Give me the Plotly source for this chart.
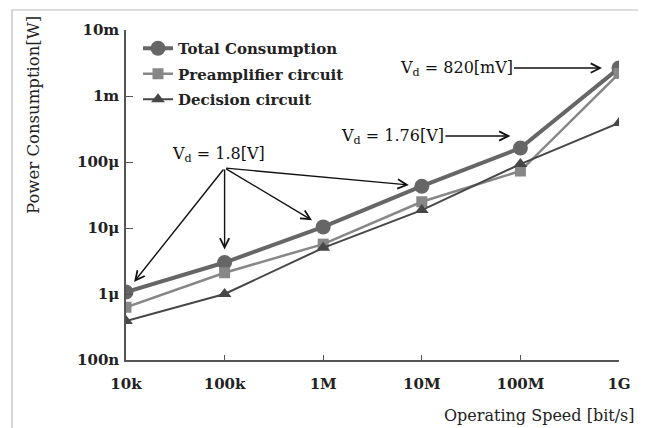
import plotly.graph_objects as go
import numpy as np

speeds = [1e4, 1e5, 1e6, 1e7, 1e8, 1e9]
x_ticktext = ["10k", "100k", "1M", "10M", "100M", "1G"]
total = [1.07e-6, 3.0e-6, 10.4e-6, 43e-6, 163e-6, 2.65e-3]
preamp = [0.63e-6, 2.1e-6, 5.7e-6, 25e-6, 73e-6, 2.2e-3]
decision = [0.39e-6, 1.0e-6, 5.0e-6, 18.7e-6, 93e-6, 390e-6]
y_tickvals = [1e-7, 1e-6, 1e-5, 1e-4, 1e-3, 1e-2]
y_ticktext = ["100n", "1μ", "10μ", "100μ", "1m", "10m"]

OFF = 8  # page body margin
W, H = 646 - OFF, 428 - OFF
# plot area in page pixels: x 126..619, y 30..360
L, R, T, B = 126 - OFF, 646 - 619, 30 - OFF, 428 - 360
PW, PH = W - L - R, H - T - B

def px(xp):  # page pixel x -> paper
    return (xp - OFF - L) / PW

def py(yp):  # page pixel y -> paper
    return (H - B - (yp - OFF)) / PH

def dy(yp):  # page pixel y -> log10 data
    return -7 + (360 - yp) / 66

FONT = "DejaVu Serif"
ACOL = "#111111"

fig = go.Figure()
fig.add_trace(go.Scatter(x=speeds, y=total, name="Total Consumption", mode="lines+markers",
                         legendgroup="a",
                         line=dict(color="#666666", width=4),
                         marker=dict(symbol="circle", size=15, color="#666666")))
fig.add_trace(go.Scatter(x=speeds, y=preamp, name="Preamplifier circuit", mode="lines+markers",
                         legendgroup="b",
                         line=dict(color="#878787", width=2.5),
                         marker=dict(symbol="square", size=11, color="#878787")))
fig.add_trace(go.Scatter(x=speeds, y=decision, name="Decision circuit", mode="lines+markers",
                         legendgroup="c",
                         line=dict(color="#474747", width=2),
                         marker=dict(symbol="triangle-up", size=12, color="#474747")))

lx = np.log10(speeds)
lt = np.log10(total)

annotations = []
# V_d = 1.8[V]: one label, four arrows
src_x, src_y = lx[1], dy(168)
annotations.append(dict(x=lx[1], y=src_y, xref="x", yref="y", yshift=14, xshift=-6,
                        text="V<sub>d</sub> = 1.8[V]", showarrow=False,
                        font=dict(family=FONT, size=16, color=ACOL)))
for i in range(4):
    annotations.append(dict(x=lx[i], y=lt[i], xref="x", yref="y", ax=src_x, ay=src_y,
                            axref="x", ayref="y", text="", showarrow=True, arrowhead=5,
                            arrowsize=1.3, arrowwidth=1.4, arrowcolor=ACOL, standoff=13))
# V_d = 1.76[V]
annotations.append(dict(x=lx[4], y=dy(136), xref="x", yref="y",
                        ax=392 - 520, ay=0, text="V<sub>d</sub> = 1.76[V]",
                        showarrow=True, arrowhead=5, arrowsize=1.3, arrowwidth=1.4,
                        arrowcolor=ACOL, standoff=10,
                        font=dict(family=FONT, size=16, color=ACOL)))
# V_d = 820[mV]
annotations.append(dict(x=lx[5], y=lt[5], xref="x", yref="y",
                        ax=456 - 619, ay=0, text="V<sub>d</sub> = 820[mV]",
                        showarrow=True, arrowhead=5, arrowsize=1.3, arrowwidth=1.4,
                        arrowcolor=ACOL, standoff=17,
                        font=dict(family=FONT, size=16, color=ACOL)))
# axis titles
annotations.append(dict(x=px(33), y=py(115), xref="paper", yref="paper", textangle=-90,
                        xanchor="center", yanchor="middle",
                        text="Power Consumption[W]", showarrow=False,
                        font=dict(family=FONT, size=16.5, color="#222222")))
annotations.append(dict(x=px(637), y=py(415), xref="paper", yref="paper", xanchor="right",
                        yanchor="middle",
                        text="Operating Speed [bit/s]", showarrow=False,
                        font=dict(family=FONT, size=16, color="#222222")))

fig.update_layout(
    width=W, height=H, margin=dict(l=L, r=R, t=T, b=B),
    paper_bgcolor="white", plot_bgcolor="white",
    font=dict(family=FONT, size=14, color="#222222"),
    showlegend=True,
    legend=dict(x=px(138), y=py(32), xanchor="left", yanchor="top", bgcolor="rgba(0,0,0,0)",
                font=dict(family=FONT, size=15, color="#222222", weight=600),
                tracegroupgap=3, itemwidth=30),
    annotations=annotations,
    shapes=[dict(type="rect", xref="paper", yref="paper", x0=px(12), x1=px(640),
                 y0=py(450), y1=py(10), line=dict(color="#bbbbbb", width=1.2), layer="below")],
)
fig.update_xaxes(type="log", range=[4, 9], tickvals=speeds, ticktext=x_ticktext,
                 showline=True, linecolor="#555555", linewidth=1.5, showgrid=False,
                 zeroline=False, ticks="inside", ticklen=5, tickcolor="#555555",
                 ticklabelstandoff=9,
                 tickfont=dict(family=FONT, size=15, color="#222222", weight="bold"))
fig.update_yaxes(type="log", range=[-7, -2], tickvals=y_tickvals, ticktext=y_ticktext,
                 showline=True, linecolor="#555555", linewidth=1.5, showgrid=False,
                 zeroline=False, ticks="inside", ticklen=7, tickcolor="#555555",
                 ticklabelstandoff=2,
                 tickfont=dict(family=FONT, size=15, color="#222222", weight="bold"))

fig.write_html("out.html")
